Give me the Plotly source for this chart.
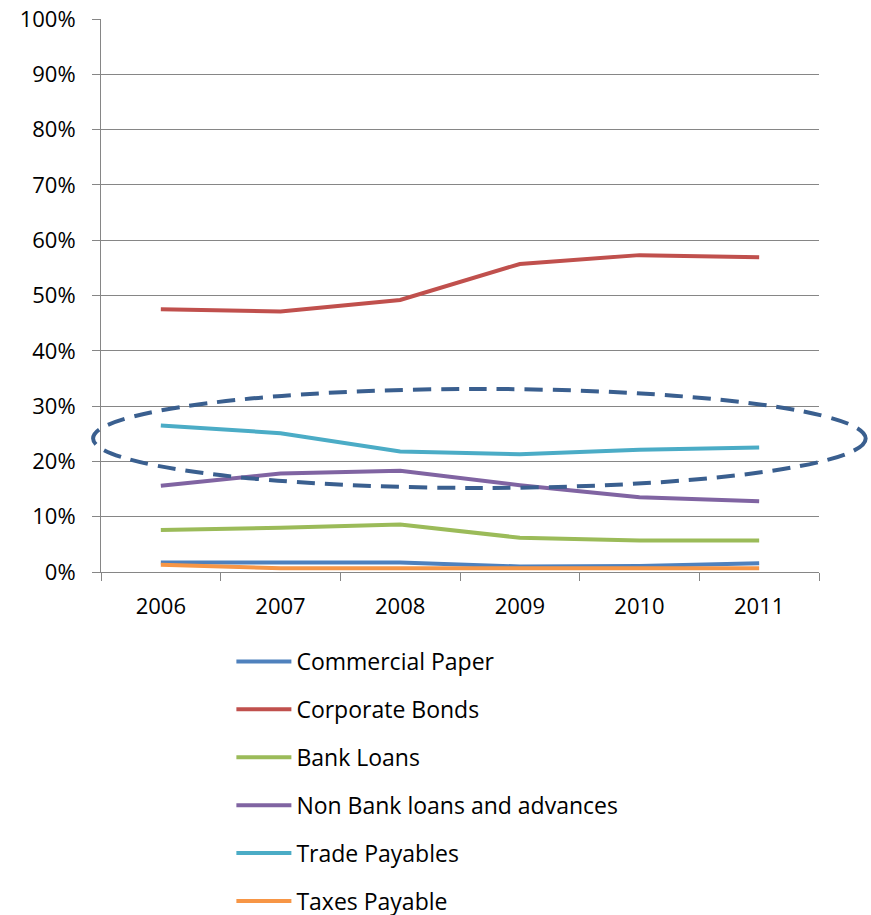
import plotly.graph_objects as go

years = ["2006", "2007", "2008", "2009", "2010", "2011"]
commercial_paper = [0.017, 0.017, 0.017, 0.010, 0.011, 0.016]
corporate_bonds = [0.475, 0.471, 0.492, 0.557, 0.573, 0.569]
bank_loans = [0.076, 0.080, 0.086, 0.062, 0.057, 0.057]
non_bank = [0.156, 0.178, 0.183, 0.157, 0.135, 0.128]
trade_payables = [0.265, 0.251, 0.218, 0.213, 0.221, 0.225]
taxes_payable = [0.013, 0.007, 0.007, 0.007, 0.007, 0.007]

series = [
    ("Commercial Paper", commercial_paper, "#4F81BD"),
    ("Corporate Bonds", corporate_bonds, "#C0504D"),
    ("Bank Loans", bank_loans, "#9BBB59"),
    ("Non Bank loans and advances", non_bank, "#8064A2"),
    ("Trade Payables", trade_payables, "#4BACC6"),
    ("Taxes Payable", taxes_payable, "#F79646"),
]

FONT = "Open Sans"
fig = go.Figure()
for i, (name, vals, col) in enumerate(series):
    fig.add_trace(go.Scatter(
        x=years, y=vals, name=name, mode="lines",
        line=dict(color=col, width=4),
        legendgroup=f"g{i}",
    ))

# highlight ellipse (annotation, extends past plot area)
fig.add_shape(type="circle", xref="paper", yref="paper",
              x0=-0.011, x1=1.065, y0=0.152, y1=0.331,
              line=dict(color="#3A5F8F", width=4, dash="18px,10px"),
              layer="above")

fig.update_layout(
    width=871, height=915,
    margin=dict(l=101, r=52, t=19, b=343, autoexpand=False),
    paper_bgcolor="white", plot_bgcolor="white",
    font=dict(family=FONT, size=22, color="black"),
    showlegend=True,
    legend=dict(x=0.1816, y=-0.123, xanchor="left", yanchor="top",
                font=dict(size=23, family=FONT), tracegroupgap=15,
                itemwidth=55, bgcolor="rgba(0,0,0,0)"),
    xaxis=dict(type="category", range=[-0.5, 5.5], showline=True,
               linecolor="#868686", linewidth=1, ticks="outside",
               tickson="boundaries", ticklen=8, tickcolor="#868686",
               showgrid=False, tickfont=dict(size=22), zeroline=False,
               ticklabelstandoff=15),
    yaxis=dict(range=[0, 1], dtick=0.1, tickformat=".0%", showline=True,
               linecolor="#868686", linewidth=1, ticks="outside",
               ticklen=8, tickcolor="#868686", showgrid=True,
               gridcolor="#868686", gridwidth=1, zeroline=False,
               tickfont=dict(size=22), ticklabelstandoff=12),
)

fig.write_html("out.html")
